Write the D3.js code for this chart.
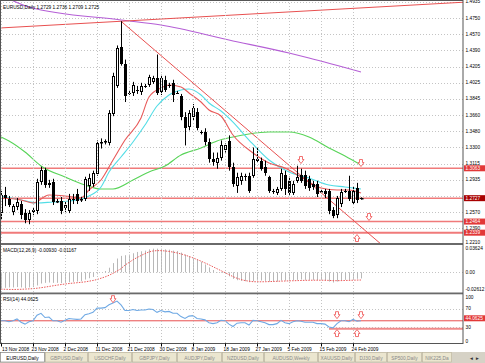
<!DOCTYPE html>
<html>
<head>
<meta charset="utf-8">
<script src="https://cdnjs.cloudflare.com/ajax/libs/d3/7.8.5/d3.min.js"></script>
<style>
  body { margin: 0; background: #fff; }
  svg { display: block; }
  text { font-family: "Liberation Sans", Arial, sans-serif; }
</style>
</head>
<body>
<div id="chart"></div>
<script>
// ---- data ----
var firstBar = -1; // bars run from -1 (13 Nov, half hidden) to 89 (26 Feb)
var opens = [1.2559,1.2763,1.2718,1.2570,1.2627,1.2661,1.2559,1.2479,1.2570,1.2581,1.2911,1.3047,1.2877,1.2911,1.2684,1.2695,1.2616,1.2581,1.2718,1.2775,1.2706,1.2718,1.2865,1.2888,1.3002,1.3342,1.3354,1.3342,1.3672,1.3989,1.4421,1.4239,1.3910,1.3910,1.3944,1.3921,1.3989,1.4001,1.4035,1.4080,1.3921,1.4058,1.4001,1.4024,1.3910,1.3876,1.3637,1.3524,1.3637,1.3694,1.3467,1.3467,1.3354,1.3172,1.3126,1.3183,1.3263,1.3365,1.3081,1.2865,1.2922,1.2975,1.2979,1.2979,1.3172,1.3149,1.3081,1.2968,1.2809,1.2786,1.2831,1.2990,1.2922,1.2786,1.2922,1.2990,1.2990,1.2945,1.2888,1.2888,1.2797,1.2809,1.2809,1.2593,1.2536,1.2661,1.2809,1.2809,1.2672,1.2843,1.2729];
var highs = [1.2809,1.2854,1.2752,1.2661,1.2729,1.2695,1.2604,1.2593,1.2616,1.2945,1.3081,1.3070,1.2933,1.2945,1.2718,1.2740,1.2695,1.2775,1.2775,1.2831,1.2740,1.2968,1.3002,1.3036,1.3376,1.3399,1.3388,1.3717,1.4137,1.4444,1.4716,1.4285,1.3944,1.4035,1.3989,1.4024,1.4012,1.4114,1.4103,1.4342,1.4114,1.4103,1.4024,1.4058,1.3933,1.3899,1.3694,1.3717,1.3785,1.3740,1.3490,1.3513,1.3399,1.3240,1.3240,1.3376,1.3342,1.3433,1.3126,1.3013,1.3013,1.3002,1.3013,1.3297,1.3297,1.3183,1.3149,1.2979,1.2831,1.2854,1.3058,1.3036,1.2968,1.2922,1.3092,1.3058,1.3036,1.2979,1.2922,1.2922,1.2820,1.2831,1.2831,1.2627,1.2752,1.2831,1.2831,1.2979,1.2854,1.2899,1.2736];
var lows = [1.2491,1.2638,1.2627,1.2536,1.2593,1.2491,1.2445,1.2434,1.2536,1.2547,1.2877,1.2843,1.2843,1.2650,1.2672,1.2547,1.2570,1.2559,1.2661,1.2661,1.2684,1.2695,1.2809,1.2854,1.2979,1.3285,1.3331,1.3320,1.3649,1.3967,1.4217,1.3808,1.3887,1.3876,1.3899,1.3887,1.3967,1.3978,1.4012,1.3887,1.3887,1.3921,1.3967,1.3808,1.3899,1.3603,1.3320,1.3490,1.3603,1.3490,1.3444,1.3320,1.3126,1.3092,1.3058,1.3149,1.3240,1.3036,1.2854,1.2786,1.2877,1.2922,1.2786,1.2956,1.3126,1.3036,1.2979,1.2786,1.2775,1.2763,1.2809,1.2763,1.2763,1.2763,1.2899,1.2899,1.2831,1.2809,1.2820,1.2740,1.2786,1.2729,1.2547,1.2502,1.2502,1.2627,1.2786,1.2695,1.2650,1.2672,1.2709];
var closes = [1.2763,1.2729,1.2650,1.2638,1.2684,1.2536,1.2479,1.2559,1.2593,1.2911,1.3047,1.2877,1.2899,1.2684,1.2695,1.2581,1.2650,1.2718,1.2706,1.2695,1.2718,1.2945,1.2956,1.3013,1.3342,1.3354,1.3365,1.3683,1.4103,1.4410,1.4239,1.3876,1.3912,1.4001,1.3933,1.3989,1.3991,1.4092,1.4080,1.3910,1.4080,1.3944,1.3989,1.3887,1.3912,1.3637,1.3513,1.3683,1.3740,1.3513,1.3469,1.3354,1.3172,1.3138,1.3183,1.3320,1.3320,1.3081,1.2888,1.2968,1.2979,1.2979,1.2809,1.3172,1.3149,1.3058,1.3013,1.2809,1.2797,1.2831,1.3013,1.2831,1.2786,1.2888,1.2968,1.2922,1.2865,1.2843,1.2854,1.2775,1.2809,1.2775,1.2581,1.2525,1.2729,1.2797,1.2811,1.2718,1.2809,1.2706,1.2725];

// moving averages, sampled as [bar, price]
var maRed = [[-1,1.2729],[4,1.2707],[7,1.2673],[11,1.2763],[15,1.2752],[19,1.2729],[21,1.2819],[24,1.2931],[27,1.3156],[30,1.3381],[34,1.3628],[36,1.3864],[39,1.3966],[41,1.3999],[44,1.3977],[46,1.3910],[49,1.3808],[51,1.3718],[54,1.3651],[57,1.3437],[62,1.3235],[66,1.3123],[70,1.3066],[74,1.2965],[79,1.2841],[83,1.2819],[86,1.2819],[89,1.2785]];
var maCyan = [[-1,1.2752],[4,1.2707],[8,1.2673],[12,1.2684],[16,1.2695],[19,1.2718],[21,1.2752],[24,1.2853],[26,1.3021],[29,1.3190],[32,1.3359],[35,1.3550],[38,1.3763],[41,1.3887],[44,1.3943],[46,1.3954],[49,1.3887],[51,1.3797],[54,1.3707],[57,1.3583],[61,1.3381],[66,1.3156],[71,1.3021],[76,1.2954],[81,1.2875],[85,1.2853],[89,1.2830]];
var maGreen = [[-1,1.3415],[1,1.3370],[5,1.3246],[9,1.3089],[15,1.2965],[20,1.2875],[24,1.2830],[27,1.2830],[32,1.2931],[36,1.3021],[40,1.3089],[44,1.3212],[49,1.3291],[53,1.3370],[57,1.3415],[61,1.3449],[66,1.3471],[71,1.3471],[76,1.3415],[81,1.3291],[85,1.3201],[89,1.3100]];
var maPurple = [[0,1.4989],[6,1.4876],[29,1.4730],[39,1.4674],[56,1.4505],[71,1.4359],[76,1.4303],[89,1.4146]];

// trend lines [bar, price] pairs, horizontal levels
var trendUp = [[-1, 1.4641], [29, 1.4716]];
var trendDown = [[29, 1.4716], [88, 1.2442]];
var hLevels = [1.3063, 1.2727, 1.2464, 1.2339];
var hLabelDark = 1.2727;

// MACD(12,26,9), x1000
var macdMain = [-24,-23.5,-23,-23,-22.5,-23,-24,-23,-22.5,-20,-17,-16,-15.5,-16,-16,-16.5,-16,-15,-14.5,-14,-13.5,-11,-9,-7,-3,0,2,7,14,21,25,26,27,29,31,32,33,35,36,36,36,35,34.5,33,32.5,30,27,24.5,22,19,16,12,7.5,3.5,0.5,-1,-2.5,-6,-10,-12,-13,-13.5,-15,-13.5,-12.5,-12.5,-13,-14,-14,-14,-12.5,-12.5,-13,-12,-11.5,-11,-11.5,-11.5,-11.5,-12,-12,-12.5,-14,-15.5,-14,-12,-11.5,-11.5,-10,-9.8,-9.3];
var macdSignal = [-25.5,-25.8,-26,-26.1,-26,-25.8,-25.5,-25.2,-24.8,-24.2,-23.4,-22.5,-21.5,-20.5,-19.5,-18.6,-17.8,-17,-16.4,-15.8,-15.2,-14.5,-13.5,-12.4,-11,-9,-7,-4.5,-1.5,2,5.5,11,15,19,22.5,25.5,28.5,31,32.5,33,33,32.5,31.8,30.8,29.5,28,26.2,24.2,22,19.5,17,14.3,11.5,8.5,5.5,2.5,-0.5,-3.5,-6.5,-9,-11,-12.5,-13.5,-14.2,-14.4,-14.4,-14.3,-14.1,-13.9,-13.6,-13.4,-13.2,-13,-12.8,-12.6,-12.4,-12.2,-12.1,-12,-12,-12,-12.1,-12.3,-12.6,-12.7,-12.6,-12.4,-12.2,-12,-11.8,-11.67];
var macdTicks = [0.03624, 0.00, -0.02612];

// RSI(14)
var rsiValues = [44,44,42,44,48,41,37,42,44,56,60,51,52,44,44,41,45,49,48,47,48,57,59,62,71,71,72,78,82,86,78,66,66,68,66,67,67,69,68,62,66,63,64,60,60,53,49,54,55,49,48,46,40,38,40,45,44,37,32,39,40,40,35,45,44,42,40,36,36,38,45,40,38,42,44,43,41,41,41,38,38,37,31,29,38,44,44,42,47,43,44.0625];
var rsiTicks = [100, 70, 30, 0];
var rsiLevel = 44.0625;
var rsiRay = [81, 27];

// arrows [bar, value, dir]
var priceArrows = [[74, 1.3156, "down"], [89, 1.3122, "down"], [91, 1.2515, "down"], [88, 1.2279, "up"]];
var rsiArrows = [[27, 90, "down"], [83, 56, "down"], [89, 56, "down"], [83, 18, "up"], [88, 18, "up"]];

// axis labels
var priceTicks = [1.4935, 1.4750, 1.4570, 1.4390, 1.4205, 1.4025, 1.3845, 1.3660, 1.3480, 1.3300, 1.3115, 1.2935, 1.2750, 1.2570, 1.2390, 1.2210];
var dateBars = [-1, 7, 15, 23, 31, 39, 47, 55, 63, 71, 79, 87];
var dateLabels = ["13 Nov 2008", "23 Nov 2008", "2 Dec 2008", "11 Dec 2008", "21 Dec 2008", "30 Dec 2008", "8 Jan 2009", "18 Jan 2009", "27 Jan 2009", "5 Feb 2009", "15 Feb 2009", "24 Feb 2009"];
var tabNames = ["EURUSD,Daily", "GBPUSD,Daily", "USDCHF,Daily", "GBPJPY,Daily", "AUDJPY,Daily", "NZDUSD,Daily", "AUDUSD,Weekly", "XAUUSD,Daily", "DJ30,Daily", "SP500,Daily", "NIK225,Da"];
var tabEdges = [0, 45, 88, 132, 177, 222, 264, 318, 355, 387, 422, 452];

var titleMain = "EURUSD,Daily  1.2729 1.2736 1.2709 1.2725";
var titleMacd = "MACD(12,26,9) -0.00930 -0.01167";
var titleRsi = "RSI(14) 44.0625";

function draw() {
    var w = 485, h = 363;
    var plotR = 463;
    var fs = 4.8;

    var svg = d3.select("#chart").append("svg")
        .attr("width", w).attr("height", h);

    var bars = opens.map(function(o, i) {
        return {i: firstBar + i, o: o, h: highs[i], l: lows[i], c: closes[i],
                macd: macdMain[i] / 1000, sig: macdSignal[i] / 1000, rsi: rsiValues[i]};
    });

    var x = d3.scaleLinear().domain([0, 87]).range([5, 353]);
    var y = d3.scaleLinear().domain([1.2223, 1.4955]).range([243, 0]);
    var yM = d3.scaleLinear().domain([-0.02612, 0.03624]).range([289.5, 248.5]);
    var yR = d3.scaleLinear().domain([0, 100]).range([341.5, 294.5]);

    // clip areas
    var defs = svg.append("defs");
    [["cMain", 0, 243], ["cMacd", 245, 292.5], ["cRsi", 294, 343.5]].forEach(function(c) {
        defs.append("clipPath").attr("id", c[0]).append("rect")
            .attr("x", 0).attr("y", c[1]).attr("width", plotR).attr("height", c[2] - c[1]);
    });

    var gMain = svg.append("g").attr("clip-path", "url(#cMain)");
    var gMacd = svg.append("g").attr("clip-path", "url(#cMacd)");
    var gRsi = svg.append("g").attr("clip-path", "url(#cRsi)");

    var grid = "#c4c4c4";
    // vertical grid
    dateBars.forEach(function(b) {
        var gx = Math.round(x(b)) + 0.5;
        svg.append("line").attr("x1", gx).attr("x2", gx).attr("y1", 0).attr("y2", 343)
            .attr("stroke", grid).attr("stroke-dasharray", "1,2");
    });
    // horizontal grid
    priceTicks.forEach(function(p) {
        var gy = Math.round(y(p)) + 0.5;
        gMain.append("line").attr("x1", 0).attr("x2", plotR).attr("y1", gy).attr("y2", gy)
            .attr("stroke", grid).attr("stroke-dasharray", "1,2");
    });
    gMacd.append("line").attr("x1", 0).attr("x2", plotR)
        .attr("y1", Math.round(yM(0)) + 0.5).attr("y2", Math.round(yM(0)) + 0.5)
        .attr("stroke", grid).attr("stroke-dasharray", "1,2");
    [70, 30].forEach(function(v) {
        var gy = Math.round(yR(v)) + 0.5;
        gRsi.append("line").attr("x1", 0).attr("x2", plotR).attr("y1", gy).attr("y2", gy)
            .attr("stroke", grid).attr("stroke-dasharray", "1,2");
    });

    // horizontal levels
    hLevels.forEach(function(p, k) {
        gMain.append("line").attr("x1", 0).attr("x2", plotR)
            .attr("y1", y(p)).attr("y2", y(p))
            .attr("stroke", "#f07a7a").attr("stroke-width", k == 3 ? 2 : 1.5);
    });

    // moving averages
    var line = d3.line().x(function(d) { return x(d[0]); }).y(function(d) { return y(d[1]); })
        .curve(d3.curveMonotoneX);
    [[maPurple, "#b55fd6"], [maGreen, "#58d458"], [maCyan, "#52dde6"], [maRed, "#e85a5a"]].forEach(function(m) {
        gMain.append("path").attr("d", line(m[0])).attr("fill", "none")
            .attr("stroke", m[1]).attr("stroke-width", 1.1);
    });

    // trend lines, extended as rays
    function ray(pts, toBar) {
        var s = (pts[1][1] - pts[0][1]) / (pts[1][0] - pts[0][0]);
        return [[pts[0][0], pts[0][1]], [toBar, pts[0][1] + s * (toBar - pts[0][0])]];
    }
    var rawLine = d3.line().x(function(d) { return x(d[0]); }).y(function(d) { return y(d[1]); });
    var tu = trendUp.slice(); tu[0] = [-3, trendUp[0][1] - 2 * (trendUp[1][1] - trendUp[0][1]) / 30];
    gMain.append("path").attr("d", rawLine(ray([tu[0], trendUp[1]], 116)))
        .attr("stroke", "#e85050").attr("fill", "none");
    gMain.append("path").attr("d", rawLine(ray(trendDown, 100)))
        .attr("stroke", "#e85050").attr("fill", "none");

    // candles
    bars.forEach(function(d) {
        var c = Math.round(x(d.i));
        gMain.append("line").attr("x1", c + 0.5).attr("x2", c + 0.5)
            .attr("y1", y(d.h)).attr("y2", y(d.l)).attr("stroke", "#000");
        var top = Math.round(y(Math.max(d.o, d.c)));
        var bh = Math.round(y(Math.min(d.o, d.c))) - top;
        if (bh < 1) {
            gMain.append("rect").attr("x", c - 1).attr("y", top).attr("width", 3).attr("height", 1).attr("fill", "#000");
        } else if (d.c >= d.o) {
            gMain.append("rect").attr("x", c - 0.5).attr("y", top + 0.5).attr("width", 2).attr("height", Math.max(bh - 1, 0.5))
                .attr("fill", "#fff").attr("stroke", "#000");
        } else {
            gMain.append("rect").attr("x", c - 1).attr("y", top).attr("width", 3).attr("height", bh).attr("fill", "#000");
        }
    });
    // last price dot
    var last = bars[bars.length - 1];
    gMain.append("rect").attr("x", Math.round(x(last.i)) + 1).attr("y", Math.round(y(last.c)))
        .attr("width", 1.5).attr("height", 1.5).attr("fill", "#000");

    // arrows
    function arrow(g, cx, cy, dir) {
        var s = dir == "down" ? 1 : -1;
        var p = "M" + (cx - 1.5) + "," + (cy - 3.5 * s) + "H" + (cx + 1.5) + "V" + (cy - 0.5 * s) +
            "H" + (cx + 3) + "L" + cx + "," + (cy + 3.5 * s) + "L" + (cx - 3) + "," + (cy - 0.5 * s) +
            "H" + (cx - 1.5) + "Z";
        g.append("path").attr("d", p).attr("fill", "#fff").attr("stroke", "#f06060").attr("stroke-width", 0.9);
    }
    priceArrows.forEach(function(a) { arrow(svg, x(a[0]), y(a[1]), a[2]); });

    // MACD
    bars.forEach(function(d) {
        var c = Math.round(x(d.i)) + 0.5;
        gMacd.append("line").attr("x1", c).attr("x2", c).attr("y1", yM(0)).attr("y2", yM(d.macd))
            .attr("stroke", "#b8b8b8");
    });
    gMacd.append("path")
        .attr("d", d3.line().x(function(d) { return x(d.i); }).y(function(d) { return yM(d.sig); })(bars))
        .attr("fill", "none").attr("stroke", "#ec5c5c").attr("stroke-dasharray", "1.5,1.2");

    // RSI
    gRsi.append("line").attr("x1", 0).attr("x2", plotR).attr("y1", yR(rsiLevel)).attr("y2", yR(rsiLevel))
        .attr("stroke", "#e85050");
    gRsi.append("line").attr("x1", x(rsiRay[0])).attr("x2", plotR).attr("y1", yR(rsiRay[1])).attr("y2", yR(rsiRay[1]))
        .attr("stroke", "#f08a8a").attr("stroke-width", 2);
    gRsi.append("path")
        .attr("d", d3.line().x(function(d) { return x(d.i); }).y(function(d) { return yR(d.rsi); })(bars))
        .attr("fill", "none").attr("stroke", "#6fa9e4").attr("stroke-width", 1.1);
    rsiArrows.forEach(function(a) { arrow(svg, x(a[0]), yR(a[1]), a[2]); });

    // separators and frame
    svg.append("rect").attr("x", 0).attr("y", 243).attr("width", plotR).attr("height", 2).attr("fill", "#6a6a6a");
    svg.append("rect").attr("x", 0).attr("y", 292.5).attr("width", plotR).attr("height", 1.8).attr("fill", "#6a6a6a");
    svg.append("rect").attr("x", 0.5).attr("y", 0.5).attr("width", plotR - 0.5).attr("height", 343)
        .attr("fill", "none").attr("stroke", "#555");

    // titles
    svg.append("text").attr("x", 3).attr("y", 8.5).attr("font-size", fs).text(titleMain);
    svg.append("text").attr("x", 3).attr("y", 252).attr("font-size", fs).text(titleMacd);
    svg.append("text").attr("x", 3).attr("y", 300.5).attr("font-size", fs).text(titleRsi);

    // right axis labels (a tick label hidden under a level label is left out)
    var lx = plotR + 2.5;
    priceTicks.forEach(function(p) {
        var ty = Math.min(y(p), 242);
        var hidden = hLevels.some(function(q) { return Math.abs(y(q) - ty) < 3.5; });
        if (hidden) return;
        svg.append("text").attr("x", lx).attr("y", ty + 1.7).attr("font-size", fs).text(p.toFixed(4));
    });
    hLevels.forEach(function(p) {
        var ly = y(p);
        svg.append("rect").attr("x", plotR + 1).attr("y", ly - 3).attr("width", 21).attr("height", 6)
            .attr("fill", p == hLabelDark ? "#a80000" : "#e23838");
        svg.append("text").attr("x", lx).attr("y", ly + 1.7).attr("font-size", fs).attr("fill", "#fff").text(p.toFixed(4));
    });
    macdTicks.forEach(function(v, k) {
        var ly = yM(v);
        svg.append("text").attr("x", lx).attr("y", ly + 1.7).attr("font-size", fs)
            .text(k == 1 ? "0.00" : v.toFixed(5));
    });
    rsiTicks.forEach(function(v) {
        var ly = Math.max(Math.min(yR(v), 342), 297);
        svg.append("text").attr("x", lx).attr("y", ly + 1.7).attr("font-size", fs).text(v);
    });
    var rl = yR(rsiLevel) - 2.5;
    svg.append("rect").attr("x", plotR + 1).attr("y", rl - 3).attr("width", 21).attr("height", 6).attr("fill", "#e23838");
    svg.append("text").attr("x", lx).attr("y", rl + 1.7).attr("font-size", fs).attr("fill", "#fff").text(rsiLevel.toFixed(4));

    // date axis
    dateBars.forEach(function(b, k) {
        var tx = Math.round(x(b)) + 0.5;
        svg.append("line").attr("x1", tx).attr("x2", tx).attr("y1", 343.5).attr("y2", 346.5).attr("stroke", "#000");
        svg.append("text").attr("x", Math.max(tx - 2, 2)).attr("y", 350.5).attr("font-size", fs).text(dateLabels[k]);
    });

    // tab bar
    svg.append("rect").attr("x", 0).attr("y", 352).attr("width", w).attr("height", 11).attr("fill", "#d6d2c6");
    tabNames.forEach(function(t, k) {
        var x0 = tabEdges[k], x1 = tabEdges[k + 1];
        svg.append("rect").attr("x", x0 + 0.5).attr("y", 352.5).attr("width", x1 - x0 - 1).attr("height", 9.5)
            .attr("fill", k == 0 ? "#fff" : "#ebe6cf").attr("stroke", k == 0 ? "#777" : "#b9b39c").attr("stroke-width", 0.6);
        svg.append("text").attr("x", (x0 + x1) / 2).attr("y", 359.5).attr("font-size", fs)
            .attr("text-anchor", "middle").attr("fill", k == 0 ? "#000" : "#8a8a8a").text(t);
    });
    svg.append("text").attr("x", 469).attr("y", 359.5).attr("font-size", fs).attr("fill", "#333").text("\u25C4 \u25BA");
}

window.onload = draw;
</script>
</body>
</html>
